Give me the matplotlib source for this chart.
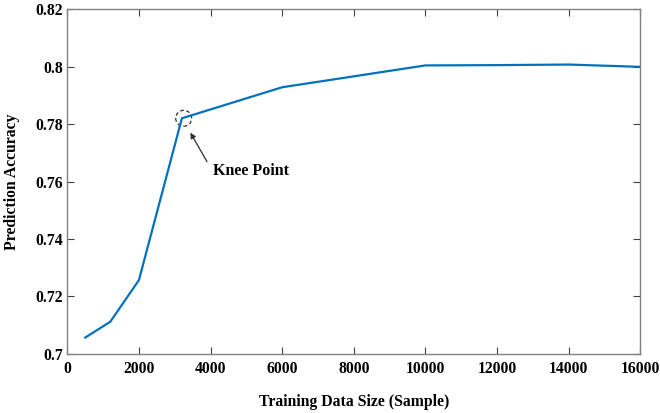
import matplotlib
matplotlib.use('Agg')
import matplotlib.pyplot as plt
from matplotlib.patches import Ellipse

# training set size vs. accuracy
sizes = [500, 1200, 2000, 3200, 6000, 10000, 12000, 14000, 16000]
accuracy = [0.7057, 0.7112, 0.7257, 0.7820, 0.7928, 0.8004, 0.8005, 0.8007, 0.7999]
knee_x, knee_y = 3250, 0.7820

xticks = list(range(0, 16001, 2000))
yticks = [0.70, 0.72, 0.74, 0.76, 0.78, 0.80, 0.82]
ytick_labels = ['0.7', '0.72', '0.74', '0.76', '0.78', '0.8', '0.82']

plt.rcParams['font.family'] = ['Liberation Serif', 'DejaVu Serif']
plt.rcParams['font.weight'] = 'bold'

fig = plt.figure(figsize=(6.6, 4.13), dpi=100)
ax = fig.add_axes([0.102, 0.143, 0.868, 0.835])

ax.plot(sizes, accuracy, color='#0072BD', linewidth=1.6)

ax.set_xlim(0, 16000)
ax.set_ylim(0.70, 0.82)
ax.set_xticks(xticks)
ax.set_xticklabels([str(t) for t in xticks])
ax.set_yticks(yticks)
ax.set_yticklabels(ytick_labels)

for s in ax.spines.values():
    s.set_color('#808080')
    s.set_linewidth(1.0)
ax.tick_params(direction='in', length=5, width=0.8, color='#404040',
               top=True, right=True, labelsize=11.3)
ax.tick_params(axis='x', pad=5)
ax.tick_params(axis='y', pad=3)
for lab in ax.get_xticklabels() + ax.get_yticklabels():
    lab.set_fontweight('bold')

ax.set_xlabel('Training Data Size (Sample)', fontsize=11.3, fontweight='bold',
              labelpad=12)
ax.set_ylabel('Prediction Accuracy', fontsize=11.3, fontweight='bold',
              labelpad=10)
ax.yaxis.set_label_coords(-0.082, 0.5)

# dashed circle round the knee, sized in pixels
r_px = 8
x_per_px = 16000 / (fig.get_figwidth() * fig.dpi * 0.868)
y_per_px = 0.12 / (fig.get_figheight() * fig.dpi * 0.835)
ax.add_patch(Ellipse((knee_x, knee_y), 2 * r_px * x_per_px,
                     2 * r_px * y_per_px, fill=False, linestyle=(0, (3, 2)),
                     edgecolor='#303030', linewidth=0.9))

ax.annotate('', xy=(3436, 0.7770), xytext=(3902, 0.7669),
            arrowprops=dict(arrowstyle='-|>', color='#303030', lw=0.9,
                            mutation_scale=8, shrinkA=0, shrinkB=0))
ax.text(4060, 0.7637, 'Knee Point', fontsize=11.5,
        fontweight='bold', va='center', ha='left')

fig.savefig('out.png', dpi=100)
